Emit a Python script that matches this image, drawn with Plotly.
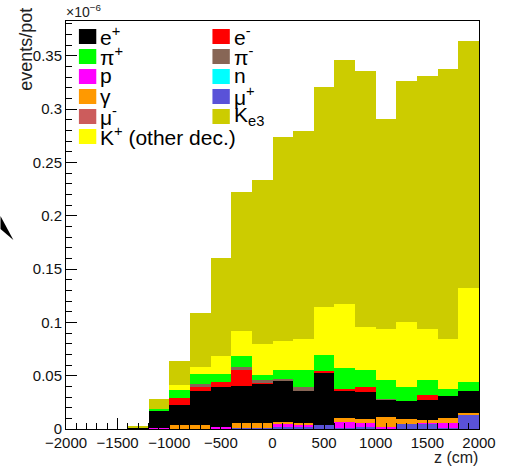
import plotly.graph_objects as go

# ---------------- data (units of 1e-6 events/pot) ----------------
z_centers = [-1900, -1700, -1500, -1300, -1100, -900, -700, -500, -300, -100,
             100, 300, 500, 700, 900, 1100, 1300, 1500, 1700, 1900]
bin_width = 200

mu_plus = [0, 0, 0, 0, 0, 0, 0, 0, 0.0010, 0.0010,
           0.0023, 0.0025, 0.0033, 0.0014, 0.0017, 0, 0.0049, 0.0045, 0.0010, 0.0136]
proton = [0, 0, 0, 0, 0.0012, 0, 0, 0.0015, 0, 0,
          0.0025, 0.0017, 0, 0.0056, 0.0041, 0.0017, 0, 0.0019, 0.0049, 0]
neutron = [0] * 20
gamma = [0, 0, 0, 0, 0, 0.0035, 0.0039, 0, 0.0043, 0.0043,
         0.0015, 0.0012, 0, 0.0033, 0.0038, 0.0094, 0.0047, 0.0016, 0.0047, 0.0016]
mu_minus = [0] * 20
e_plus = [0, 0, 0, 0.0010, 0.0160, 0.0188, 0.0322, 0.0375, 0.0354, 0.0370,
          0.0391, 0.0307, 0.0491, 0.0258, 0.0250, 0.0163, 0.0165, 0.0194, 0.0200, 0.0203]
e_minus = [0, 0, 0, 0, 0, 0.0068, 0.0031, 0.0047, 0.0147, 0.0016,
           0, 0, 0.0019, 0.0016, 0.0047, 0, 0, 0.0045, 0, 0]
pi_minus = [0, 0, 0, 0, 0, 0, 0.0032, 0, 0.0024, 0.0016,
            0.0016, 0.0031, 0, 0, 0, 0.0009, 0, 0, 0, 0]
pi_plus = [0, 0, 0, 0, 0.0016, 0.0072, 0.0094, 0.0079, 0.0110, 0.0047,
           0.0084, 0.0163, 0.0147, 0.0197, 0.0163, 0.0178, 0.0129, 0.0143, 0.0068, 0.0084]
k_other = [0, 0, 0, 0, 0, 0.0047, 0.0068, 0.0172, 0.0235, 0.0297,
           0.0268, 0.0291, 0.0453, 0.0600, 0.0403, 0.0478, 0.0613, 0.0478, 0.0466, 0.0882]
ke3 = [0, 0, 0, 0.0020, 0.0094, 0.0228, 0.0504, 0.0912, 0.1296, 0.1539,
       0.1914, 0.1945, 0.2064, 0.2282, 0.2398, 0.1970, 0.2258, 0.2367, 0.2533, 0.2321]

# stacking order (bottom -> top)
series = [
    ("μ<sup>+</sup>", mu_plus, "#5a52d8"),
    ("p", proton, "#ff00ff"),
    ("n", neutron, "#00ffff"),
    ("γ", gamma, "#ff9900"),
    ("μ<sup>-</sup>", mu_minus, "#cc5c5c"),
    ("e<sup>+</sup>", e_plus, "#000000"),
    ("e<sup>-</sup>", e_minus, "#ff0000"),
    ("π<sup>-</sup>", pi_minus, "#876656"),
    ("π<sup>+</sup>", pi_plus, "#00ff00"),
    ("K<sup>+</sup> (other dec.)", k_other, "#ffff00"),
    ("K<sub>e3</sub>", ke3, "#cccc00"),
]
legend_order = ["e<sup>+</sup>", "e<sup>-</sup>", "π<sup>+</sup>", "π<sup>-</sup>",
                "p", "n", "γ", "μ<sup>+</sup>", "μ<sup>-</sup>", "K<sub>e3</sub>",
                "K<sup>+</sup> (other dec.)"]

y_max = 0.3826

# ---------------- figure ----------------
W, H = 508, 466
ML, MR, MT, MB = 66, 26, 21, 37
PW, PH = W - ML - MR, H - MT - MB


def px(xp):
    return (xp - ML) / PW


def py(yp):
    return (H - MB - yp) / PH


fig = go.Figure()
for name, vals, col in series:
    fig.add_trace(go.Bar(x=z_centers, y=vals, width=bin_width, name=name,
                         marker=dict(color=col, line=dict(width=0)),
                         showlegend=False))

axis_common = dict(showline=True, mirror=True, linecolor="black", linewidth=1,
                   ticks="inside", ticklen=11, tickwidth=1, tickcolor="black",
                   showgrid=False, zeroline=False,
                   tickfont=dict(family="Liberation Sans", size=15, color="#111111"))
fig.update_xaxes(range=[-2000, 2000], tick0=-2000, dtick=500,
                 minor=dict(ticks="inside", ticklen=6, dtick=100, tick0=-2000,
                            tickcolor="black", showgrid=False),
                 **axis_common)
fig.update_yaxes(range=[0, y_max], tick0=0, dtick=0.05,
                 minor=dict(ticks="inside", ticklen=6, dtick=0.01, tick0=0,
                            tickcolor="black", showgrid=False),
                 **axis_common)

colors = {n: c for n, _, c in series}
shapes = []
annotations = []
col_box_x = [79, 213.5]
col_text_x = [98, 233]
for i, name in enumerate(legend_order):
    r, c = divmod(i, 2)
    base = 43.5 + 20 * r
    shapes.append(dict(type="rect", xref="paper", yref="paper",
                       x0=px(col_box_x[c]), x1=px(col_box_x[c] + 17.5),
                       y0=py(base + 0.5), y1=py(base - 14.5),
                       fillcolor=colors[name], line=dict(width=0), layer="above"))
    annotations.append(dict(text=name, xref="paper", yref="paper",
                            x=px(col_text_x[c]), y=py(base - 7.5),
                            xanchor="left", yanchor="middle", showarrow=False,
                            font=dict(family="Liberation Sans", size=21, color="black")))

# small black wedge at the left edge of the picture
shapes.append(dict(type="path", xref="paper", yref="paper",
                   path="M %f,%f L %f,%f L %f,%f Z" % (px(0), py(216), px(13), py(240), px(0), py(229)),
                   fillcolor="black", line=dict(width=0)))

annotations += [
    dict(text="×10<sup>−6</sup>", xref="paper", yref="paper", x=px(64), y=py(22),
         xanchor="left", yanchor="bottom", showarrow=False,
         font=dict(family="Liberation Sans", size=14, color="#222222")),
    dict(text="events/pot", xref="paper", yref="paper", x=px(26), y=py(6),
         xanchor="center", yanchor="top", textangle=-90, showarrow=False,
         font=dict(family="Liberation Sans", size=18, color="#222222")),
    dict(text="z (cm)", xref="paper", yref="paper", x=px(483), y=py(447),
         xanchor="right", yanchor="top", showarrow=False,
         font=dict(family="Liberation Sans", size=16, color="#222222")),
]

fig.update_layout(width=W, height=H, margin=dict(l=ML, r=MR, t=MT, b=MB),
                  paper_bgcolor="white", plot_bgcolor="white",
                  barmode="stack", bargap=0, showlegend=False,
                  shapes=shapes, annotations=annotations,
                  font=dict(family="Liberation Sans"))

fig.write_html("out.html")
